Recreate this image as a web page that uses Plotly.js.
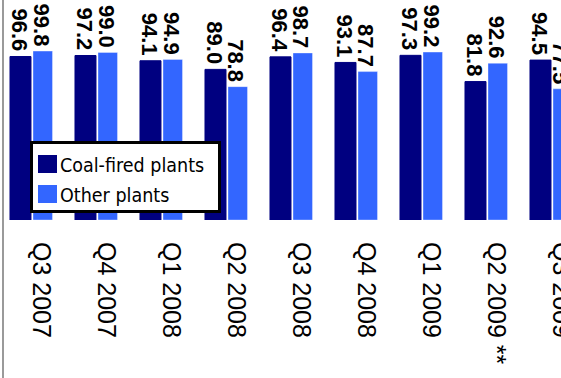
<!DOCTYPE html>
<html>
<head>
<meta charset="utf-8">
<script src="https://cdn.plot.ly/plotly-3.0.1.min.js"></script>
<style>
  html, body { margin: 0; padding: 0; background: #fff; }
  #chart { width: 561px; height: 378px; }
</style>
</head>
<body>
<div id="chart"></div>
<script>
// Quarterly availability by plant type
const quarters = ['Q3 2007', 'Q4 2007', 'Q1 2008', 'Q2 2008', 'Q3 2008', 'Q4 2008', 'Q1 2009', 'Q2 2009 **', 'Q3 2009'];
const coalFired = [96.6, 97.2, 94.1, 89.0, 96.4, 93.1, 97.3, 81.8, 94.5];
const otherPlants = [99.8, 99.0, 94.9, 78.8, 98.7, 87.7, 99.2, 92.6, 77.5];
const seriesNames = ['Coal-fired plants', 'Other plants'];
const seriesColors = ['#000080', '#3366ff'];

// plot-area geometry in pixels (used to place the hand-drawn legend)
const W = 561, H = 378;
const M = { l: 3, r: 0, t: 0, b: 158 };
const PW = W - M.l - M.r, PH = H - M.t - M.b;
const px = x => (x - M.l) / PW;
const py = y => 1 - (y - M.t) / PH;

function barTrace(name, values, color, offset, width, lineColor) {
  return {
    type: 'bar',
    name: name,
    x: quarters,
    y: values,
    offset: offset,
    width: width,
    marker: { color: color, line: { color: lineColor, width: 1 } },
    hoverinfo: 'x+y+name'
  };
}

const data = [
  barTrace(seriesNames[0], coalFired, seriesColors[0], -0.331, 0.323, seriesColors[0]),
  barTrace(seriesNames[1], otherPlants, seriesColors[1], 0.023, 0.300, 'rgba(255,255,255,0.35)')
];

const annotations = [];

// rotated value labels sitting on top of each bar
const valueFont = { family: 'Liberation Sans', size: 22, color: '#000000' };
[[coalFired, -12], [otherPlants, 9.5]].forEach(([values, shift]) => {
  values.forEach((v, i) => {
    annotations.push({
      xref: 'x', yref: 'y', x: quarters[i], y: v,
      xanchor: 'center', yanchor: 'bottom', xshift: shift, yshift: 4,
      textangle: 90, showarrow: false, borderpad: 0,
      text: '<b>' + v.toFixed(1) + '</b>', font: valueFont
    });
  });
});

// legend box with swatches
const legendItems = [
  { name: seriesNames[0], color: seriesColors[0], top: 155 },
  { name: seriesNames[1], color: seriesColors[1], top: 185 }
];

const shapes = [
  { type: 'line', xref: 'paper', yref: 'paper', x0: px(3), x1: px(3), y0: py(-5), y1: py(H + 5),
    line: { color: '#9a9a9a', width: 2 }, layer: 'above' },
  { type: 'rect', xref: 'paper', yref: 'paper', x0: px(31.5), x1: px(219.5), y0: py(211.5), y1: py(142.5),
    fillcolor: '#ffffff', line: { color: '#000000', width: 3 }, layer: 'above' }
];
legendItems.forEach(it => {
  shapes.push({ type: 'rect', xref: 'paper', yref: 'paper',
    x0: px(38), x1: px(57), y0: py(it.top + 18), y1: py(it.top),
    fillcolor: it.color, line: { width: 0 }, layer: 'above' });
  annotations.push({ xref: 'paper', yref: 'paper', x: px(58), y: py(it.top + 10),
    xanchor: 'left', yanchor: 'middle', showarrow: false, text: it.name,
    font: { family: 'DejaVu Sans Condensed', size: 19.5, color: '#000' } });
});

const layout = {
  width: W,
  height: H,
  margin: { l: M.l, r: M.r, t: M.t, b: M.b, pad: 0 },
  paper_bgcolor: '#ffffff',
  plot_bgcolor: '#ffffff',
  barmode: 'overlay',
  showlegend: false,
  xaxis: {
    type: 'category',
    range: [-0.4385, 8.146],
    tickangle: 90,
    tickfont: { family: 'Liberation Sans', size: 25, color: '#000' },
    ticks: '',
    ticklabelshift: 10,
    ticklabelstandoff: 21,
    showline: false,
    showgrid: false,
    zeroline: false,
    automargin: false
  },
  yaxis: {
    range: [0, 130],
    visible: false,
    showgrid: false,
    zeroline: false,
    automargin: false
  },
  shapes: shapes,
  annotations: annotations
};

Plotly.newPlot('chart', data, layout, { displayModeBar: false, staticPlot: true });
</script>
</body>
</html>
